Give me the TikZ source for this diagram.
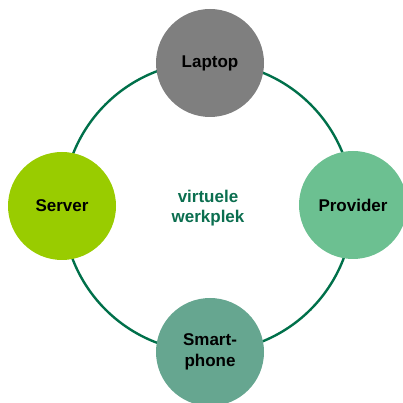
\documentclass[tikz,border=0pt]{standalone}
\usepackage{fontspec}
\setmainfont{Liberation Sans}
\definecolor{ringgreen}{HTML}{00704A}
\definecolor{labelgreen}{HTML}{0B6E4F}
\definecolor{laptopgray}{HTML}{7F7F7F}
\definecolor{serverlime}{HTML}{99CC00}
\definecolor{providergreen}{HTML}{6CC091}
\definecolor{phoneteal}{HTML}{66A690}
\tikzset{
  device/.style={circle, minimum size=108pt, inner sep=0pt, draw=none,
    font=\fontsize{17}{21}\selectfont\bfseries, text=black, align=center},
  ring/.style={draw=ringgreen, line width=2.4pt}
}
\begin{document}
\begin{tikzpicture}[x=1pt,y=1pt]
  \useasboundingbox (0,0) rectangle (403,403);
  % central ring
  \coordinate (c) at (208,196);
  \draw[ring] (c) circle[radius=145];
  % devices on the ring
  \node[device, fill=laptopgray] (laptop) at (210,340) {Laptop};
  \node[device, fill=serverlime] (server) at (62,197) {Server};
  \node[device, fill=providergreen] (provider) at (353,198) {Provider};
  \node[device, fill=phoneteal] (phone) at (210,51) {Smart-\\phone};
  % centre label
  \node[font=\fontsize{17}{20}\selectfont\bfseries, text=labelgreen, align=center] (centre) at (208,195) {virtuele\\werkplek};
\end{tikzpicture}
\end{document}
